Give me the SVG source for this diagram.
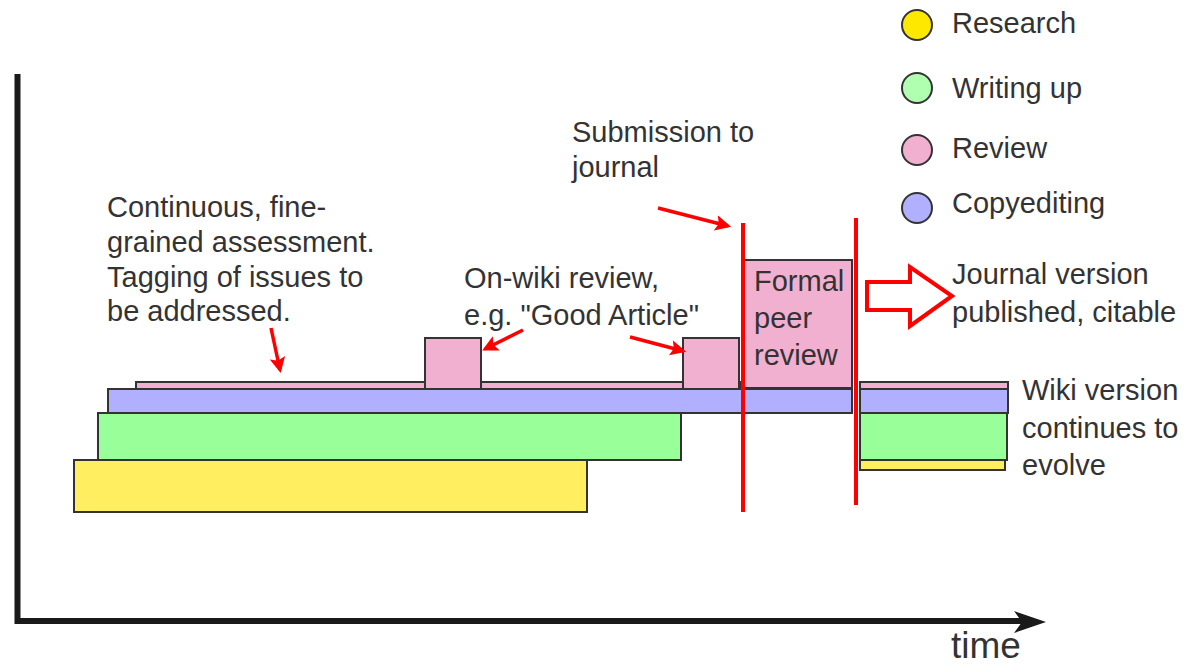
<svg xmlns="http://www.w3.org/2000/svg" width="1190" height="667" viewBox="0 0 1190 667">
<style>
text{font-family:"Liberation Sans",Arial,sans-serif;font-size:29px;fill:#333}
.bar{stroke:#333;stroke-width:2}
.y{fill:#ffee60}.g{fill:#99ff99}.b{fill:#b0b0ff}.p{fill:#f2b0d0}
.red{stroke:#ff0000;stroke-width:4;fill:none}
.ptr{stroke:#ff0000;stroke-width:3.5;fill:none;marker-end:url(#rh)}
</style>
<defs>
<marker id="rh" viewBox="0 0 10 10" refX="8" refY="5" markerWidth="4.5" markerHeight="4.5" orient="auto" markerUnits="strokeWidth">
<path d="M0,0 L10,5 L0,10 L2,5 Z" fill="#ff0000"/>
</marker>
</defs>
<rect width="1190" height="667" fill="#fff"/>

<g id="axes">
<path d="M17.5,74 V621 H1022" stroke="#1a1a1a" stroke-width="6" fill="none"/>
<path d="M1046,622 L1014,611 L1022,622 L1014,633 Z" fill="#1a1a1a"/>
<text x="951" y="658" style="font-size:37px">time</text>
</g>

<g id="legend">
<circle cx="917" cy="25" r="15" fill="#ffe800" stroke="#333" stroke-width="2"/>
<text x="952" y="33">Research</text>
<circle cx="917" cy="88" r="15" fill="#b0ffb0" stroke="#333" stroke-width="2"/>
<text x="952" y="98">Writing up</text>
<circle cx="917" cy="150" r="15" fill="#f2b0d0" stroke="#333" stroke-width="2"/>
<text x="952" y="158">Review</text>
<circle cx="917" cy="208" r="15" fill="#b0b0ff" stroke="#333" stroke-width="2"/>
<text x="952" y="213">Copyediting</text>
</g>

<g id="wiki-bars">
<rect class="bar y" x="74" y="460" width="513" height="52"/>
<rect class="bar g" x="98" y="413" width="583" height="47"/>
<rect class="bar b" x="108" y="389" width="635" height="24"/>
<rect class="bar b" x="743" y="389" width="109" height="24"/>
<rect class="bar p" x="136" y="382" width="604" height="7"/>
</g>

<g id="onwiki-review-1"><rect class="bar p" x="425" y="338" width="56" height="51"/></g>
<g id="onwiki-review-2"><rect class="bar p" x="683" y="338" width="56" height="51"/></g>

<g id="formal-review">
<rect class="bar p" x="743" y="260" width="109" height="128"/>
<text x="754" y="291">Formal</text>
<text x="754" y="328">peer</text>
<text x="754" y="365">review</text>
</g>

<g id="wiki-continues">
<rect class="bar y" x="860" y="460" width="145" height="10"/>
<rect class="bar g" x="860" y="413" width="147" height="47"/>
<rect class="bar b" x="860" y="389" width="148" height="24"/>
<rect class="bar p" x="860" y="382" width="148" height="7"/>
</g>

<g id="milestones">
<line class="red" x1="743" y1="223" x2="743" y2="512"/>
<line class="red" x1="856" y1="218" x2="856" y2="505"/>
<path d="M867,282 H910 V267 L952,296 L910,326 V310 H867 Z" fill="#fff" stroke="#ff0000" stroke-width="4"/>
</g>

<g id="labels">
<text x="107" y="217">Continuous, fine-</text>
<text x="107" y="252">grained assessment.</text>
<text x="107" y="287">Tagging of issues to</text>
<text x="107" y="321">be addressed.</text>
<text x="464" y="288">On-wiki review,</text>
<text x="464" y="325">e.g. "Good Article"</text>
<text x="572" y="142">Submission to</text>
<text x="572" y="177">journal</text>
<text x="952" y="284">Journal version</text>
<text x="952" y="322">published, citable</text>
<text x="1022" y="400">Wiki version</text>
<text x="1022" y="438">continues to</text>
<text x="1022" y="475">evolve</text>
</g>

<g id="connectors">
<path class="ptr" d="M271,328 L280,370"/>
<path class="ptr" d="M523,330 L485,349"/>
<path class="ptr" d="M630,337 L683,351"/>
<path class="ptr" d="M658,208 L728,226"/>
</g>
</svg>
